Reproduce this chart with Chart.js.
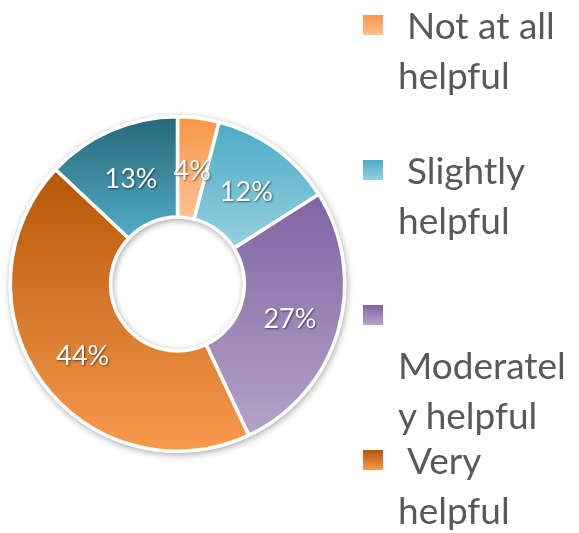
<!DOCTYPE html>
<html><head><meta charset="utf-8">
<script src="https://cdn.jsdelivr.net/npm/chart.js@4.4.1/dist/chart.umd.min.js"></script>
<style>
html,body{margin:0;padding:0;background:#fff;}
#wrap{position:relative;width:579px;height:533px;overflow:hidden;background:#fff;}
#c{position:absolute;left:0;top:0;}
#legend{position:absolute;left:0;top:0;width:579px;height:533px;font-family:Lato,"Open Sans",sans-serif;font-size:37px;line-height:50px;color:#595959;}
.item{position:absolute;left:398px;width:176px;overflow-wrap:anywhere;}
.box{position:absolute;left:-35px;top:15px;width:20px;height:20px;}
.lead{display:inline-block;width:9px;}
</style></head>
<body><div id="wrap"><canvas id="c" width="579" height="533"></canvas><div id="legend"></div></div>
<script>
const categories = ["Not at all helpful", "Slightly helpful", "Moderately helpful", "Very helpful", "Extremely helpful"];
const percentages = [4, 12, 27, 44, 13];
const topColors = ["#f79646", "#4bacc6", "#8064a2", "#b65708", "#27687a"];
const bottomColors = ["#fbc294", "#95cfdf", "#b4a3c8", "#f79a4c", "#52adc6"];

const CUTOUT = 0.4, BORDER = 3.5;

function ringGeom(chart) {
  const a = chart.chartArea;
  const cx = (a.left + a.right) / 2, cy = (a.top + a.bottom) / 2;
  const R = (Math.min(a.width, a.height) - BORDER) / 2;
  return {cx, cy, R, r: R * CUTOUT};
}

function sliceGradient(c) {
  const chart = c.chart;
  const i = c.dataIndex;
  if (!chart.chartArea || i === undefined) return topColors[i || 0];
  const g = ringGeom(chart);
  const data = c.dataset.data;
  const total = data.reduce((s, v) => s + v, 0);
  let before = 0;
  for (let k = 0; k < i; k++) before += data[k];
  const a0 = -Math.PI / 2 + 2 * Math.PI * before / total;
  const a1 = a0 + 2 * Math.PI * data[i] / total;
  let ymin = Infinity, ymax = -Infinity;
  const steps = 60;
  for (let s = 0; s <= steps; s++) {
    const t = a0 + (a1 - a0) * s / steps;
    for (const rad of [g.r, g.R]) {
      const y = g.cy + rad * Math.sin(t);
      ymin = Math.min(ymin, y); ymax = Math.max(ymax, y);
    }
  }
  const grad = chart.ctx.createLinearGradient(0, ymin, 0, ymax);
  grad.addColorStop(0, topColors[i]);
  grad.addColorStop(1, bottomColors[i]);
  return grad;
}

const shadowPlugin = {
  id: 'ringShadow',
  beforeDatasetsDraw(chart) {
    const g = ringGeom(chart);
    const ctx = chart.ctx;
    ctx.save();
    ctx.shadowColor = 'rgba(0,0,0,0.35)';
    ctx.shadowBlur = 7;
    ctx.shadowOffsetX = 1;
    ctx.shadowOffsetY = 2;
    ctx.fillStyle = '#ffffff';
    ctx.beginPath();
    ctx.arc(g.cx, g.cy, g.R + 1.5, 0, Math.PI * 2);
    ctx.fill();
    ctx.restore();
  },
  afterDatasetsDraw(chart) {
    const g = ringGeom(chart);
    const ctx = chart.ctx;
    ctx.save();
    ctx.beginPath();
    ctx.arc(g.cx, g.cy, g.r - 1.75, 0, Math.PI * 2);
    ctx.clip();
    ctx.shadowColor = 'rgba(0,0,0,0.35)';
    ctx.shadowBlur = 6;
    ctx.shadowOffsetX = 1;
    ctx.shadowOffsetY = 2;
    ctx.strokeStyle = '#ffffff';
    ctx.lineWidth = 10;
    ctx.beginPath();
    ctx.arc(g.cx, g.cy, g.r + 3.25, 0, Math.PI * 2);
    ctx.stroke();
    ctx.restore();
    const meta = chart.getDatasetMeta(0);
    ctx.save();
    ctx.font = '27px Lato, "Open Sans", sans-serif';
    ctx.textAlign = 'center';
    ctx.textBaseline = 'middle';
    ctx.fillStyle = '#ffffff';
    ctx.shadowColor = 'rgba(0,0,0,0.55)';
    ctx.shadowBlur = 2;
    ctx.shadowOffsetX = 1;
    ctx.shadowOffsetY = 1;
    meta.data.forEach((arc, i) => {
      const p = arc.tooltipPosition();
      ctx.fillText(percentages[i] + '%', p.x, p.y + 3);
    });
    ctx.restore();
  }
};

const chart = new Chart(document.getElementById('c'), {
  type: 'doughnut',
  data: {
    labels: categories,
    datasets: [{
      data: percentages,
      backgroundColor: sliceGradient,
      borderColor: '#ffffff',
      borderWidth: BORDER,
      hoverBorderWidth: 0,
      hoverOffset: 0
    }]
  },
  options: {
    responsive: false,
    animation: false,
    events: [],
    cutout: (CUTOUT * 100) + '%',
    layout: {padding: {left: 8.5, right: 232.5, top: 115, bottom: 80}},
    plugins: {legend: {display: false}, tooltip: {enabled: false}}
  },
  plugins: [shadowPlugin]
});

const legend = document.getElementById('legend');
categories.forEach((label, i) => {
  const item = document.createElement('div');
  item.className = 'item';
  item.style.top = (i * 145) + 'px';
  const box = document.createElement('div');
  box.className = 'box';
  box.style.background = 'linear-gradient(' + topColors[i] + ',' + bottomColors[i] + ')';
  item.appendChild(box);
  const lead = document.createElement('span');
  lead.className = 'lead';
  item.appendChild(lead);
  item.appendChild(document.createTextNode('\u200B' + label));
  legend.appendChild(item);
});
</script>
</body></html>
